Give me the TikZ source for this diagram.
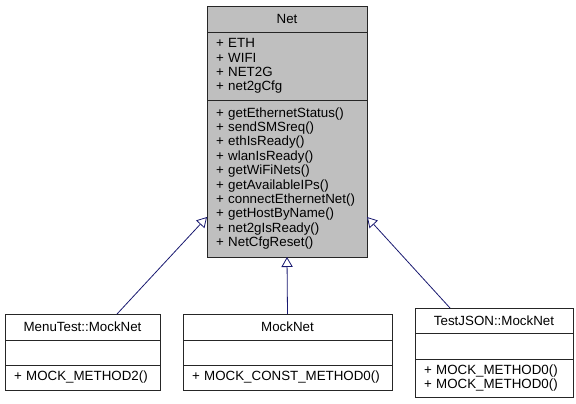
\documentclass[tikz,border=0pt]{standalone}
\usepackage{fontspec}
\setmainfont{Liberation Sans}
\usetikzlibrary{arrows.meta, positioning}
\definecolor{edgeblue}{HTML}{191970}
\definecolor{basegray}{HTML}{BFBFBF}
\tikzset{%
	cls/.style={draw=black!85, line width=0.75pt, rectangle, fill=white, inner sep=0pt,%
		outer sep=0pt, font=\fontsize{10}{10.8}\selectfont},
	mem/.style={cls, align=left, inner xsep=6.75pt, inner ysep=1pt},
	base/.style={fill=basegray},
	inh/.style={draw=edgeblue, line width=0.6pt, -{Triangle[open, length=7.5pt, width=8.5pt, fill=white]}}
}
\begin{document}
\begin{tikzpicture}
	\useasboundingbox (0,0) rectangle (432pt,-303pt);
	% base class
	\node[cls, base, minimum width=120pt, minimum height=19.5pt, anchor=north west] (netHead) at (155.25pt,-4.5pt) {Net};
	\node[mem, base, text width=106.5pt, minimum height=51pt, below=0pt of netHead] (netAttr) {+ ETH\\+ WIFI\\+ NET2G\\+ net2gCfg};
	\node[mem, base, text width=106.5pt, minimum height=117.75pt, below=0pt of netAttr] (netOps) {+ getEthernetStatus()\\+ sendSMSreq()\\+ ethIsReady()\\+ wlanIsReady()\\+ getWiFiNets()\\+ getAvailableIPs()\\+ connectEthernetNet()\\+ getHostByName()\\+ net2gIsReady()\\+ NetCfgReset()};
	
	% mocks
	\node[cls, minimum width=116.25pt, minimum height=19.5pt, anchor=north west] (menuHead) at (3.75pt,-235.5pt) {MenuTest::MockNet};
	\node[mem, text width=102.75pt, minimum height=18.75pt, below=0pt of menuHead] (menuAttr) {};
	\node[mem, text width=102.75pt, minimum height=18.75pt, below=0pt of menuAttr] (menuOps) {+ MOCK\_METHOD2()};
	
	\node[cls, minimum width=156.75pt, minimum height=19.5pt, anchor=north west] (mockHead) at (137.25pt,-235.5pt) {MockNet};
	\node[mem, text width=143.25pt, minimum height=18.75pt, below=0pt of mockHead] (mockAttr) {};
	\node[mem, text width=143.25pt, minimum height=18.75pt, below=0pt of mockAttr] (mockOps) {+ MOCK\_CONST\_METHOD0()};
	
	\node[cls, minimum width=118.5pt, minimum height=18.75pt, anchor=north west] (jsonHead) at (311.25pt,-231pt) {TestJSON::MockNet};
	\node[mem, text width=105pt, minimum height=19.5pt, below=0pt of jsonHead] (jsonAttr) {};
	\node[mem, text width=105pt, minimum height=28.5pt, below=0pt of jsonAttr] (jsonOps) {+ MOCK\_METHOD0()\\+ MOCK\_METHOD0()};
	
	\draw[inh] ([xshift=25.9pt]menuHead.north) to ([yshift=30pt]netOps.south west);
	\draw[inh] (mockHead.north) to (netOps.south);
	\draw[inh] ([xshift=-33pt]jsonHead.north) to ([yshift=30pt]netOps.south east);
\end{tikzpicture}
\end{document}
